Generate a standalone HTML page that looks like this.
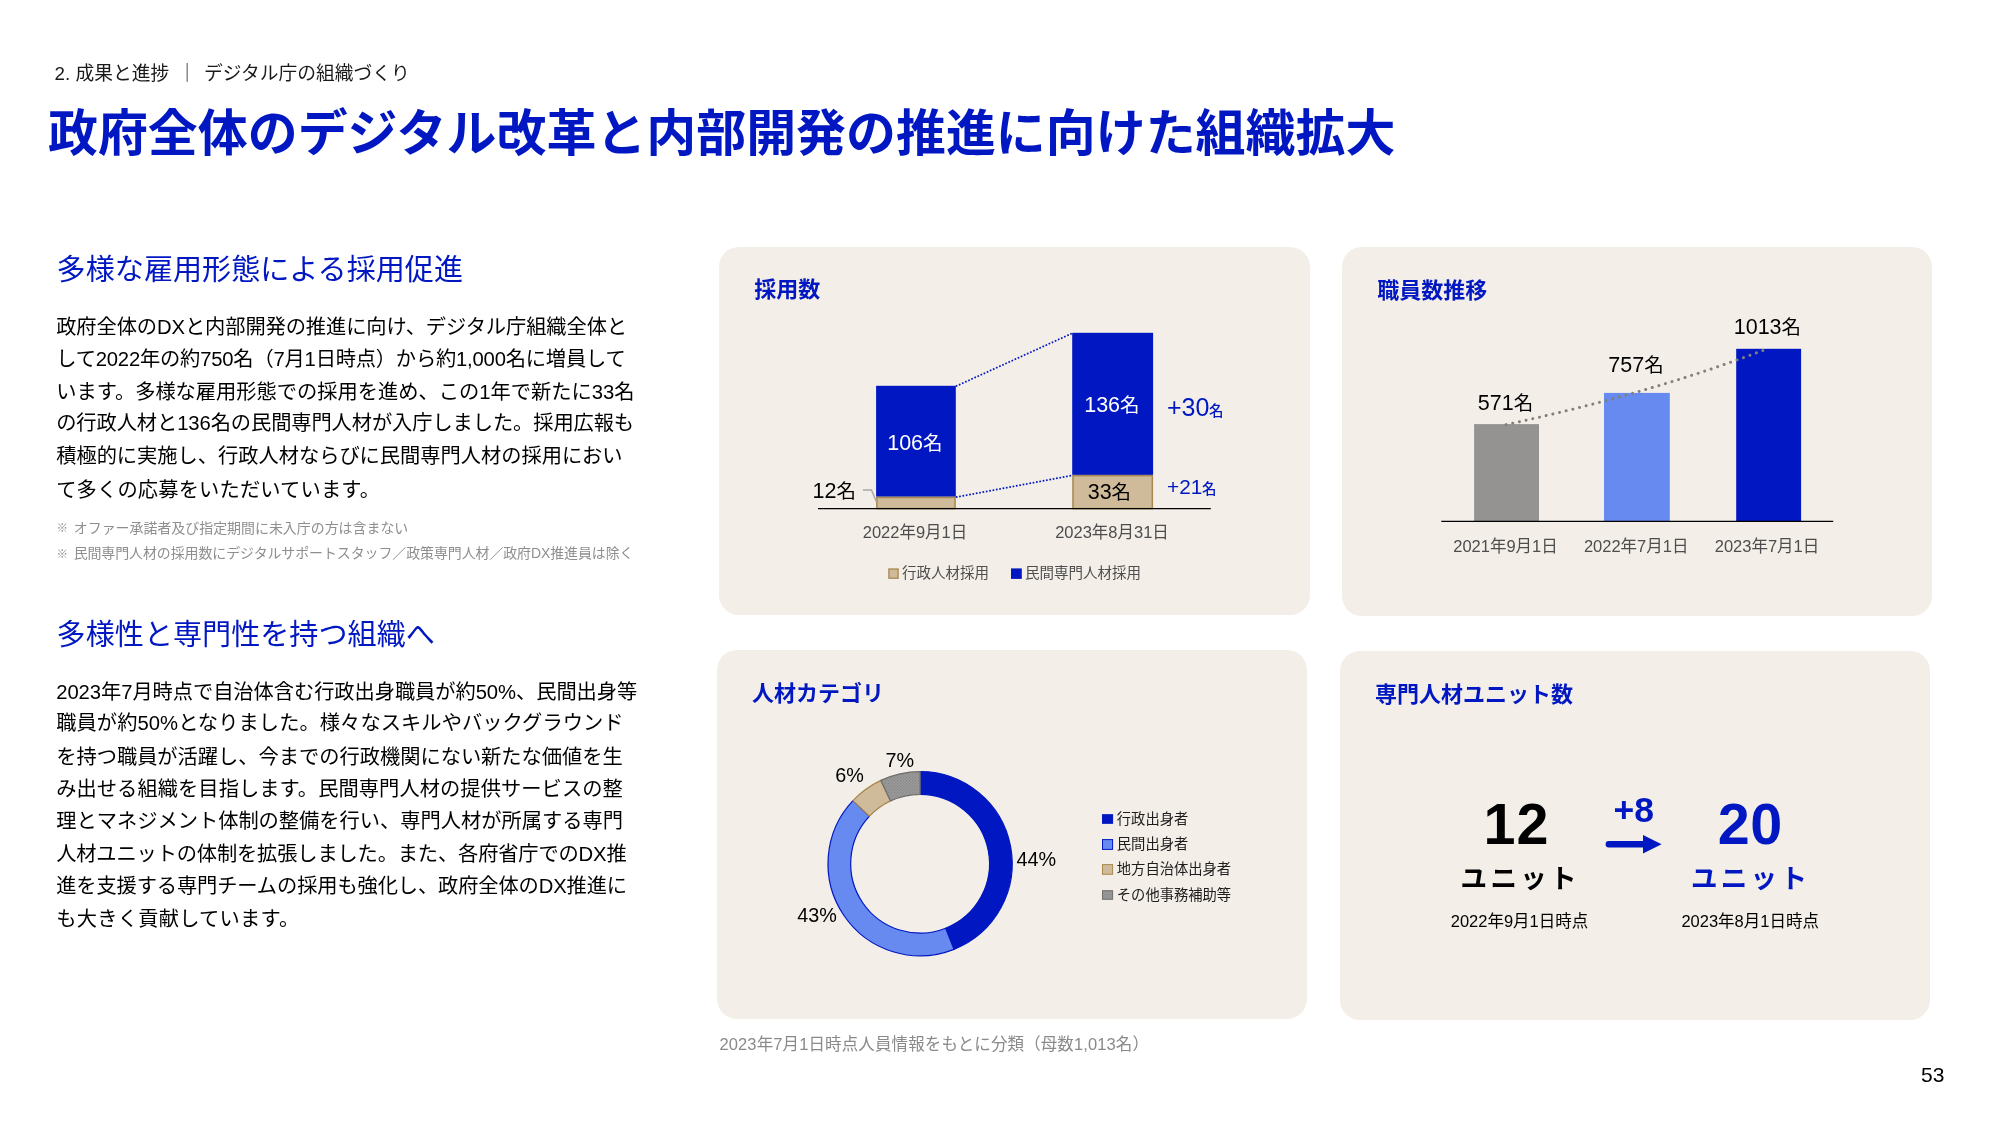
<!DOCTYPE html>
<html lang="ja">
<head>
<meta charset="utf-8">
<title>政府全体のデジタル改革と内部開発の推進に向けた組織拡大</title>
<style>
html,body{margin:0;padding:0;background:#fff;}
body{width:2000px;height:1125px;position:relative;overflow:hidden;
  font-family:"Liberation Sans","Noto Sans CJK JP",sans-serif;color:#000;}
.abs{position:absolute;white-space:nowrap;line-height:1;}
.blue{color:#0017c1;}
.card{position:absolute;background:#f3efe8;border-radius:20px;}
.crumb{left:54.6px;top:64.7px;font-size:18.75px;color:#1a1a1a;}
.title{left:48.0px;top:109.6px;font-size:49.95px;font-weight:700;color:#0017c1;}
.h2{font-size:29.1px;color:#0017c1;left:56.6px;}
.body{font-size:20.25px;left:56.2px;color:#000;}
.note{font-size:13.95px;left:56.4px;color:#8e8e8e;}
.note i{font-style:normal;font-size:11.5px;margin-right:2.0px;position:relative;top:-0.6px;}
.ctitle{font-size:22px;font-weight:700;color:#0017c1;}
.c{transform:translateX(-50%);}
#s{position:absolute;left:0;top:0;width:2000px;height:1125px;will-change:transform;}
svg{position:absolute;left:0;top:0;}
svg text{font-family:"Liberation Sans","Noto Sans CJK JP",sans-serif;}
</style>
</head>
<body>
<div id="s">
<!-- header -->
<div class="abs crumb">2. 成果と進捗<span style="margin:0 7.5px 0 8.5px;">｜</span>デジタル庁の組織づくり</div>
<div class="abs title">政府全体のデジタル改革と内部開発の推進に向けた組織拡大</div>

<!-- left column -->
<div class="abs h2" style="top:256.2px;">多様な雇用形態による採用促進</div>
<div class="abs body" id="a1" style="top:317.00px;letter-spacing:-0.093px;">政府全体のDXと内部開発の推進に向け、デジタル庁組織全体と</div>
<div class="abs body" id="a2" style="top:348.50px;letter-spacing:-0.194px;">して2022年の約750名（7月1日時点）から約1,000名に増員して</div>
<div class="abs body" id="a3" style="top:382.40px;letter-spacing:-0.007px;">います。多様な雇用形態での採用を進め、この1年で新たに33名</div>
<div class="abs body" id="a4" style="top:413.40px;letter-spacing:-0.090px;">の行政人材と136名の民間専門人材が入庁しました。採用広報も</div>
<div class="abs body" id="a5" style="top:445.80px;letter-spacing:-0.022px;">積極的に実施し、行政人材ならびに民間専門人材の採用におい</div>
<div class="abs body" id="a6" style="top:480.25px;letter-spacing:0.160px;">て多くの応募をいただいています。</div>
<div class="abs note" style="top:521.7px;"><i>※</i> オファー承諾者及び指定期間に未入庁の方は含まない</div>
<div class="abs note" style="top:547.2px;letter-spacing:-0.07px;"><i>※</i> 民間専門人材の採用数にデジタルサポートスタッフ／政策専門人材／政府DX推進員は除く</div>

<div class="abs h2" style="top:621.4px;">多様性と専門性を持つ組織へ</div>
<div class="abs body" id="b1" style="top:682.00px;letter-spacing:-0.058px;">2023年7月時点で自治体含む行政出身職員が約50%、民間出身等</div>
<div class="abs body" id="b2" style="top:713.00px;letter-spacing:0.064px;">職員が約50%となりました。様々なスキルやバックグラウンド</div>
<div class="abs body" id="b3" style="top:747.00px;letter-spacing:-0.015px;">を持つ職員が活躍し、今までの行政機関にない新たな価値を生</div>
<div class="abs body" id="b4" style="top:779.00px;letter-spacing:0.059px;">み出せる組織を目指します。民間専門人材の提供サービスの整</div>
<div class="abs body" id="b5" style="top:811.00px;letter-spacing:-0.007px;">理とマネジメント体制の整備を行い、専門人材が所属する専門</div>
<div class="abs body" id="b6" style="top:844.00px;letter-spacing:-0.157px;">人材ユニットの体制を拡張しました。また、各府省庁でのDX推</div>
<div class="abs body" id="b7" style="top:876.00px;letter-spacing:-0.121px;">進を支援する専門チームの採用も強化し、政府全体のDX推進に</div>
<div class="abs body" id="b8" style="top:909.00px;letter-spacing:0.245px;">も大きく貢献しています。</div>

<!-- cards -->
<div class="card" style="left:719px;top:246.5px;width:591px;height:368.5px;"></div>
<div class="card" style="left:1342px;top:247px;width:590px;height:369px;"></div>
<div class="card" style="left:717px;top:650px;width:590px;height:369px;"></div>
<div class="card" style="left:1340px;top:651px;width:590px;height:368.5px;"></div>

<div class="abs ctitle" style="left:754.3px;top:279.3px;">採用数</div>
<div class="abs ctitle" style="left:1377.3px;top:280.3px;">職員数推移</div>
<div class="abs ctitle" style="left:752px;top:683.2px;">人材カテゴリ</div>
<div class="abs ctitle" style="left:1375px;top:683.9px;">専門人材ユニット数</div>

<svg width="2000" height="1125" viewBox="0 0 2000 1125">
<rect x="876.1" y="385.8" width="79.7" height="110.9" fill="#0017c1"/>
<rect x="876.85" y="497.45" width="78.2" height="11.15" fill="#cfba99" stroke="#a8884f" stroke-width="1.5"/>
<rect x="1072.2" y="332.8" width="80.9" height="142.1" fill="#0017c1"/>
<rect x="1072.95" y="475.65" width="79.4" height="32.95" fill="#cfba99" stroke="#a8884f" stroke-width="1.5"/>
<line x1="818" y1="508.6" x2="1210.8" y2="508.6" stroke="#000" stroke-width="1.3"/>
<line x1="955.8" y1="386.3" x2="1072.2" y2="333.3" stroke="#0017c1" stroke-width="1.7" stroke-dasharray="1.7 1.7"/>
<line x1="955.8" y1="497.2" x2="1072.2" y2="475.4" stroke="#0017c1" stroke-width="1.7" stroke-dasharray="1.7 1.7"/>
<polyline points="863,490 871.5,490 876.3,501.5" fill="none" stroke="#a8a8a8" stroke-width="1.5"/>
<text x="914.9" y="449.8" font-size="21.5" fill="#fff" text-anchor="middle">106<tspan font-size="19.5">名</tspan></text>
<text x="1111.9" y="412.4" font-size="21.5" fill="#fff" text-anchor="middle">136<tspan font-size="19.5">名</tspan></text>
<text x="1109.4" y="499.3" font-size="21.5" fill="#000" text-anchor="middle">33<tspan font-size="19.5">名</tspan></text>
<text x="834.3" y="497.7" font-size="21.5" fill="#000" text-anchor="middle">12<tspan font-size="19.5">名</tspan></text>
<text x="1167" y="415.7" font-size="25" fill="#0017c1">+30<tspan font-size="14.5" font-weight="500" dx="-0.3">名</tspan></text>
<text x="1167" y="494.4" font-size="20.8" fill="#0017c1">+21<tspan font-size="14.5" font-weight="500" dx="-0.3">名</tspan></text>
<text x="915" y="538" font-size="16.5" fill="#4d4d4d" text-anchor="middle">2022年9月1日</text>
<text x="1112" y="538" font-size="16.5" fill="#4d4d4d" text-anchor="middle">2023年8月31日</text>
<rect x="888.9" y="569.0" width="9.2" height="9.2" fill="#cfba99" stroke="#a8884f" stroke-width="1.3"/>
<text x="902" y="578.2" font-size="14.5" fill="#4d4d4d">行政人材採用</text>
<rect x="1011" y="568.4" width="10.8" height="10.5" fill="#0017c1"/>
<text x="1025" y="578.2" font-size="14.5" fill="#4d4d4d">民間専門人材採用</text>
<rect x="1474.1" y="424.1" width="64.9" height="97.3" fill="#949392"/>
<rect x="1604" y="392.9" width="65.8" height="128.5" fill="#668af0"/>
<rect x="1736.2" y="348.8" width="64.9" height="172.6" fill="#0017c1"/>
<line x1="1441.3" y1="521.4" x2="1833.2" y2="521.4" stroke="#000" stroke-width="1.3"/>
<polyline points="1506.0,424.6 1510.3,423.7 1514.7,422.7 1519.0,421.8 1523.4,420.8 1527.7,419.8 1532.1,418.8 1536.4,417.9 1540.8,416.9 1545.1,415.8 1549.5,414.8 1553.8,413.8 1558.1,412.8 1562.5,411.7 1566.8,410.6 1571.2,409.6 1575.5,408.5 1579.9,407.4 1584.2,406.3 1588.6,405.2 1592.9,404.1 1597.2,402.9 1601.6,401.8 1605.9,400.6 1610.3,399.5 1614.6,398.3 1619.0,397.1 1623.3,395.9 1627.7,394.7 1632.0,393.5 1636.3,392.2 1640.7,391.0 1645.0,389.7 1649.4,388.4 1653.7,387.1 1658.1,385.9 1662.4,384.5 1666.8,383.2 1671.1,381.9 1675.5,380.5 1679.8,379.2 1684.1,377.8 1688.5,376.4 1692.8,375.0 1697.2,373.6 1701.5,372.2 1705.9,370.7 1710.2,369.3 1714.6,367.8 1718.9,366.3 1723.2,364.8 1727.6,363.3 1731.9,361.8 1736.3,360.2 1740.6,358.7 1745.0,357.1 1749.3,355.5 1753.7,353.9 1758.0,352.3 1762.4,350.7 1766.7,349.0" fill="none" stroke="#82807c" stroke-width="3" stroke-linecap="round" stroke-dasharray="0.01 6.85"/>
<text x="1505.5" y="409.8" font-size="21.5" fill="#000" text-anchor="middle">571<tspan font-size="19.5">名</tspan></text>
<text x="1636" y="372.1" font-size="21.5" fill="#000" text-anchor="middle">757<tspan font-size="19.5">名</tspan></text>
<text x="1767.4" y="333.5" font-size="21.5" fill="#000" text-anchor="middle">1013<tspan font-size="19.5">名</tspan></text>
<text x="1505.5" y="551.9" font-size="16.5" fill="#4d4d4d" text-anchor="middle">2021年9月1日</text>
<text x="1636.2" y="551.9" font-size="16.5" fill="#4d4d4d" text-anchor="middle">2022年7月1日</text>
<text x="1767" y="551.9" font-size="16.5" fill="#4d4d4d" text-anchor="middle">2023年7月1日</text>
<defs><pattern id="dots" width="3" height="3" patternUnits="userSpaceOnUse"><rect width="3" height="3" fill="#9b9b9b"/><rect x="0" y="0" width="1.2" height="1.2" fill="#858585"/><rect x="1.5" y="1.5" width="1.2" height="1.2" fill="#858585"/></pattern></defs>
<path d="M920.10,771.60 A92.1,92.1 0 0 1 954.00,949.33 L945.65,928.23 A69.4,69.4 0 0 0 920.10,794.30 Z" fill="#0017c1" stroke="#0017c1" stroke-width="1.2" stroke-linejoin="round"/>
<path d="M954.00,949.33 A92.1,92.1 0 0 1 852.96,800.65 L869.51,816.19 A69.4,69.4 0 0 0 945.65,928.23 Z" fill="#668af0" stroke="#0017c1" stroke-width="1.2" stroke-linejoin="round"/>
<path d="M852.96,800.65 A92.1,92.1 0 0 1 880.89,780.37 L890.55,800.91 A69.4,69.4 0 0 0 869.51,816.19 Z" fill="#cfba99" stroke="#a8884f" stroke-width="1.2" stroke-linejoin="round"/>
<path d="M880.89,780.37 A92.1,92.1 0 0 1 920.10,771.60 L920.10,794.30 A69.4,69.4 0 0 0 890.55,800.91 Z" fill="url(#dots)" stroke="#6e6e6e" stroke-width="1.2" stroke-linejoin="round"/>
<text x="1036.2" y="866.2" font-size="19.8" fill="#000" text-anchor="middle">44%</text>
<text x="817" y="922.3" font-size="19.8" fill="#000" text-anchor="middle">43%</text>
<text x="849.5" y="782.2" font-size="19.8" fill="#000" text-anchor="middle">6%</text>
<text x="899.7" y="766.7" font-size="19.8" fill="#000" text-anchor="middle">7%</text>
<rect x="1102.5" y="814.7" width="10.1" height="8.6" fill="#0017c1" stroke="#0017c1" stroke-width="1"/>
<text x="1116.8" y="823.6" font-size="14.3" fill="#1c1c1c">行政出身者</text>
<rect x="1102.5" y="839.6" width="10.1" height="9.8" fill="#668af0" stroke="#0017c1" stroke-width="1"/>
<text x="1116.8" y="849.1" font-size="14.3" fill="#1c1c1c">民間出身者</text>
<rect x="1102.5" y="864.6" width="10.1" height="9.7" fill="#cfba99" stroke="#a8884f" stroke-width="1"/>
<text x="1116.8" y="874.4" font-size="14.3" fill="#1c1c1c">地方自治体出身者</text>
<rect x="1102.5" y="890.7" width="10.1" height="8.6" fill="url(#dots)" stroke="#6e6e6e" stroke-width="1"/>
<text x="1116.8" y="900.3" font-size="14.3" fill="#1c1c1c">その他事務補助等</text>
<text x="719.5" y="1049.5" font-size="16.5" fill="#8a8a8a" letter-spacing="0.115">2023年7月1日時点人員情報をもとに分類（母数1,013名）</text>
<text x="1516.4" y="843.7" font-size="57.5" font-weight="700" fill="#000" text-anchor="middle" letter-spacing="1">12</text>
<text x="1750.2" y="843.7" font-size="57.5" font-weight="700" fill="#0017c1" text-anchor="middle" letter-spacing="0.5">20</text>
<text x="1520.2" y="887.6" font-size="26.5" font-weight="700" fill="#000" text-anchor="middle" letter-spacing="3.3">ユニット</text>
<text x="1750.6" y="887.6" font-size="26.5" font-weight="700" fill="#0017c1" text-anchor="middle" letter-spacing="3.3">ユニット</text>
<text x="1519.5" y="927" font-size="16.5" fill="#000" text-anchor="middle">2022年9月1日時点</text>
<text x="1750.2" y="927" font-size="16.5" fill="#000" text-anchor="middle">2023年8月1日時点</text>
<text x="1633.8" y="822" font-size="35.5" font-weight="700" fill="#0017c1" text-anchor="middle">+8</text>
<path d="M1608.8,841 H1643 V835 L1661.6,844.2 L1643,853.4 V847.4 H1608.8 A3.2,3.2 0 0 1 1608.8,841 Z" fill="#0017c1"/>
</svg>
<div class="abs" style="left:1921px;top:1064px;font-size:21px;">53</div>
</div>
</body>
</html>
